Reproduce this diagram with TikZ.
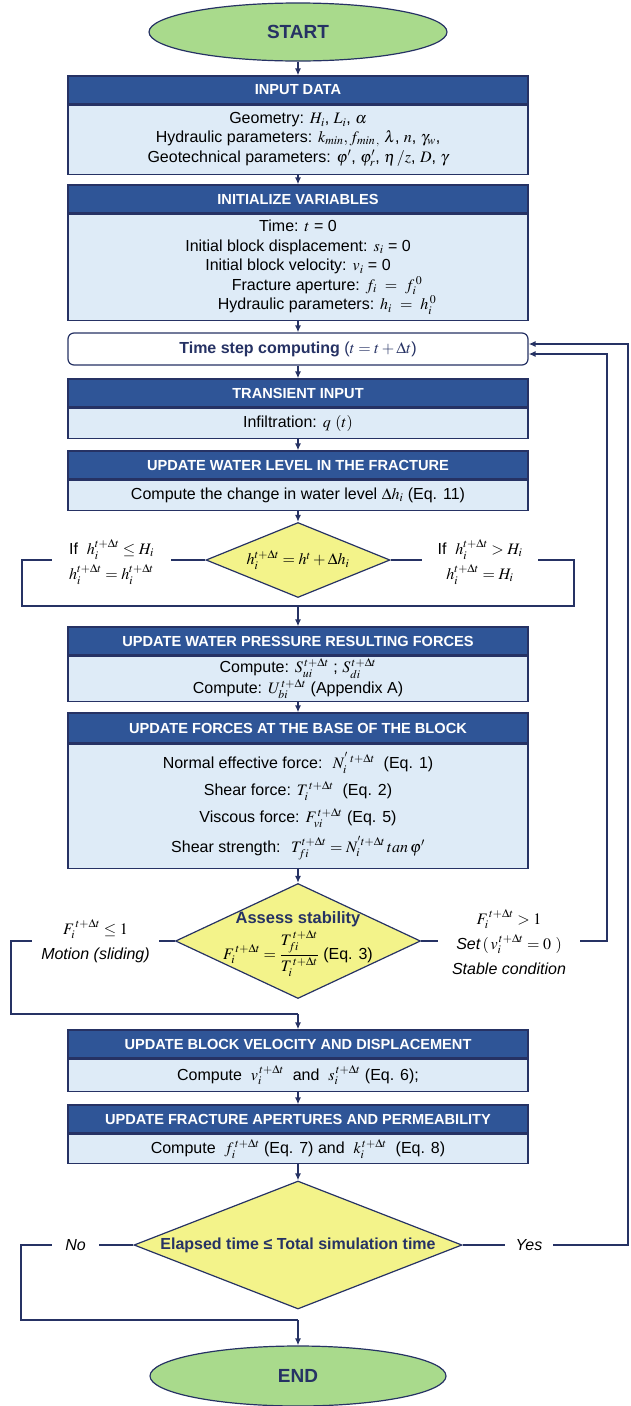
\documentclass[tikz,border=0pt]{standalone}
\usepackage{amsmath}
\usepackage{mathptmx}
\usepackage[no-math]{fontspec}
\setmainfont{Liberation Sans}
\usepackage{tikz}
\usetikzlibrary{arrows.meta,shapes.geometric,positioning}

\definecolor{navy}{RGB}{38,50,100}
\definecolor{headblue}{RGB}{47,85,151}
\definecolor{bodyblue}{RGB}{222,235,247}
\definecolor{termgreen}{RGB}{169,218,140}
\definecolor{decyellow}{RGB}{243,243,138}

\tikzset{
  head/.style={rectangle, draw=navy, line width=1.2pt, fill=headblue, text=white,
    font=\fontsize{14.6}{16}\selectfont\bfseries, minimum width=460pt, minimum height=28pt, inner sep=0pt},
  body/.style={rectangle, draw=navy, line width=1.2pt, fill=bodyblue, align=center,
    font=\fontsize{16}{19.5}\selectfont, minimum width=460pt, inner sep=0pt},
  term/.style={ellipse, draw=navy, line width=1.2pt, fill=termgreen, text=navy,
    font=\fontsize{19}{22}\selectfont\bfseries, inner sep=0pt},
  decision/.style={diamond, draw=navy, line width=1.2pt, fill=decyellow, inner sep=0pt},
  note/.style={align=center, inner sep=0pt, font=\fontsize{16}{25}\selectfont},
}

\begin{document}
\begin{tikzpicture}[x=1pt, y=-1pt, >={Latex[length=7pt,width=6pt]}]
    \useasboundingbox (0,0) rectangle (631,1406);

    %start
    \node(start) [term, minimum width=298pt, minimum height=58pt] at (298,32) {START};

    %input data
    \node(inp)  [head] at (298,90) {INPUT DATA};
    \node(inpb) [body, minimum height=69pt, below=0pt of inp, font=\fontsize{16}{18.5}\selectfont]
        {Geometry: $H_i$, $L_i$, $\alpha$\\
         Hydraulic parameters: $k_{min}, f_{min\,,}\ \lambda$, $n$, $\gamma_w$,\\[2pt]
         Geotechnical parameters: $\varphi'$, $\varphi'_r$, $\eta\,/z$, $D$, $\gamma$};

    %initialize
    \node(init)  [head] at (298,199) {INITIALIZE VARIABLES};
    \node(initb) [body, minimum height=106pt, below=0pt of init]
        {Time: $t$ = 0\\
         Initial block displacement: $s_i$ = 0\\
         Initial block velocity: $v_i$ = 0\\
         \hspace*{58pt}Fracture aperture: $f_i\ =\ f_i^{\,0}$\\
         \hspace*{58pt}Hydraulic parameters: $h_i\ =\ h_i^{\,0}$};

    %time step
    \node(step) [rectangle, rounded corners=6pt, draw=navy, line width=1.2pt, fill=white,
        minimum width=460pt, minimum height=32pt, text=navy, font=\fontsize{16}{18}\selectfont] at (298,349)
        {\textbf{Time step computing} ($t = t + \Delta t$)};

    %transient input
    \node(trans)  [head] at (298,393) {TRANSIENT INPUT};
    \node(transb) [body, minimum height=30pt, below=0pt of trans] {Infiltration: $q\ (t)$};

    %water level
    \node(water)  [head] at (298,465) {UPDATE WATER LEVEL IN THE FRACTURE};
    \node(waterb) [body, minimum height=30pt, below=0pt of water]
        {Compute the change in water level $\Delta h_i$ (Eq. 11)};

    \node(wlevel) [decision, minimum width=184pt, minimum height=75pt,
        label={[font=\fontsize{16}{18}\selectfont]center:$h_i^{t+\Delta t} = h^t + \Delta h_i$}] at (298,560) {};
    \node(ifle) [note, minimum width=119pt] at (111.5,562)
        {If \ $h_i^{t+\Delta t} \le H_i$\\$h_i^{t+\Delta t} = h_i^{t+\Delta t}$};
    \node(ifgt) [note, minimum width=116pt] at (480,562)
        {If \ $h_i^{t+\Delta t} > H_i$\\$h_i^{t+\Delta t} = H_i$};
    \coordinate (lc1) at (22,560);
    \coordinate (rc1) at (574,560);
    \coordinate (jn1) at (298,606);

    %water pressure
    \node(press)  [head] at (298,641) {UPDATE WATER PRESSURE RESULTING FORCES};
    \node(pressb) [body, minimum height=45pt, below=0pt of press]
        {Compute: $S_{ui}^{\,t+\Delta t}$ ; $S_{di}^{\,t+\Delta t}$\\
         Compute: $U_{bi}^{\,t+\Delta t}$ (Appendix A)};

    %forces
    \node(force)  [head, minimum height=30pt] at (298,728) {UPDATE FORCES AT THE BASE OF THE BLOCK};
    \node(forceb) [body, minimum height=124pt, below=0pt of force]
        {Normal effective force: \ $N_i^{'\;t+\Delta t}$ \ (Eq. 1)\\[7.5pt]
         Shear force: $T_i^{\,t+\Delta t}$ \ (Eq. 2)\\[7.5pt]
         Viscous force: $F_{vi}^{\,t+\Delta t}$ (Eq. 5)\\[7.5pt]
         Shear strength: \ $T_{fi}^{t+\Delta t} = N_i^{'t+\Delta t}\, tan\, \varphi'$};

    %stability
    \node(stab) [decision, minimum width=245pt, minimum height=115pt,
        label={[align=center, font=\fontsize{16}{18}\selectfont, yshift=-3pt]center:{\textcolor{navy}{\fontsize{16.5}{18}\selectfont\bfseries Assess stability}\\[3pt]
          $F_i^{\,t+\Delta t} = \dfrac{T_{fi}^{\,t+\Delta t}}{T_i^{\,t+\Delta t}}$ (Eq. 3)}}] at (298,941) {};
    \node(motion) [note, minimum width=127pt] at (95.5,941)
        {$F_i^{\,t+\Delta t} \le 1$\\\textit{Motion (sliding)}};
    \node(setv) [note, minimum width=142pt] at (509,942)
        {$F_i^{\,t+\Delta t} > 1$\\\textit{Set}$\,(\,v_i^{\,t+\Delta t} = 0\ )$\\\textit{Stable condition}};
    \coordinate (lc2) at (11,941);
    \coordinate (jn2) at (298,1014);
    \coordinate (rc2) at (607,941);
    \coordinate (in2) at (607,354);

    %velocity
    \node(vel)  [head] at (298,1044) {UPDATE BLOCK VELOCITY AND DISPLACEMENT};
    \node(velb) [body, minimum height=32pt, below=0pt of vel]
        {Compute \ $v_i^{\,t+\Delta t}$ \ and \ $s_i^{\,t+\Delta t}$ (Eq. 6);};

    %fracture
    \node(frac)  [head] at (298,1119) {UPDATE FRACTURE APERTURES AND PERMEABILITY};
    \node(fracb) [body, minimum height=29pt, below=0pt of frac]
        {Compute \ $f_i^{\,t+\Delta t}$ (Eq. 7) and \ $k_i^{\,t+\Delta t}$ \ (Eq. 8)};

    %elapsed time
    \node(elapsed) [decision, minimum width=328pt, minimum height=128pt,
        label={[text=navy, font=\fontsize{16}{18}\selectfont\bfseries]center:Elapsed time ≤ Total simulation time}] at (298,1245) {};
    \node(no)  [note, minimum width=47pt] at (75.5,1245) {\textit{No}};
    \node(yes) [note, minimum width=48pt] at (529,1245) {\textit{Yes}};
    \coordinate (lc3) at (21,1245);
    \coordinate (jn3) at (298,1320);
    \coordinate (rc3) at (628,1245);
    \coordinate (in3) at (628,344);

    %end
    \node(fin) [term, minimum width=296pt, minimum height=60pt] at (298,1376) {END};

    %main flow
    \draw [->][draw=navy, line width=1.5pt] (start) to (inp);
    \draw [->][draw=navy, line width=1.5pt] (inpb) to (init);
    \draw [->][draw=navy, line width=1.5pt] (initb) to (step);
    \draw [->][draw=navy, line width=1.5pt] (step) to (trans);
    \draw [->][draw=navy, line width=1.5pt] (transb) to (water);
    \draw [->][draw=navy, line width=1.5pt] (waterb) to (wlevel);
    \draw [->][draw=navy, line width=1.5pt] (pressb) to (force);
    \draw [->][draw=navy, line width=1.5pt] (forceb) to (stab);
    \draw [->][draw=navy, line width=1.5pt] (velb) to (frac);
    \draw [->][draw=navy, line width=1.5pt] (fracb) to (elapsed);

    %water level branches
    \draw [draw=navy, line width=1.5pt] (wlevel.west) -- (ifle.east |- wlevel.west);
    \draw [draw=navy, line width=1.5pt] (ifle.west |- lc1) -- (lc1) |- (jn1);
    \draw [draw=navy, line width=1.5pt] (wlevel.east) -- (ifgt.west |- wlevel.east);
    \draw [draw=navy, line width=1.5pt] (ifgt.east |- rc1) -- (rc1) |- (jn1);
    \draw [->][draw=navy, line width=1.5pt] (jn1) to (press);

    %stability branches
    \draw [draw=navy, line width=1.5pt] (stab.west) -- (motion.east |- stab.west);
    \draw [draw=navy, line width=1.5pt] (motion.west |- lc2) -- (lc2) |- (jn2);
    \draw [->][draw=navy, line width=1.5pt] (jn2) to (vel);
    \draw [draw=navy, line width=1.5pt] (stab.east) -- (setv.west |- stab.east);
    \draw [->][draw=navy, line width=1.5pt] (setv.east |- rc2) -- (rc2) -- (in2) -- (step.east |- in2);

    %elapsed time branches
    \draw [draw=navy, line width=1.5pt] (elapsed.west) -- (no.east |- elapsed.west);
    \draw [draw=navy, line width=1.5pt] (no.west |- lc3) -- (lc3) |- (jn3);
    \draw [->][draw=navy, line width=1.5pt] (jn3) to (fin);
    \draw [draw=navy, line width=1.5pt] (elapsed.east) -- (yes.west |- elapsed.east);
    \draw [->][draw=navy, line width=1.5pt] (yes.east |- rc3) -- (rc3) -- (in3) -- (step.east |- in3);
\end{tikzpicture}
\end{document}
